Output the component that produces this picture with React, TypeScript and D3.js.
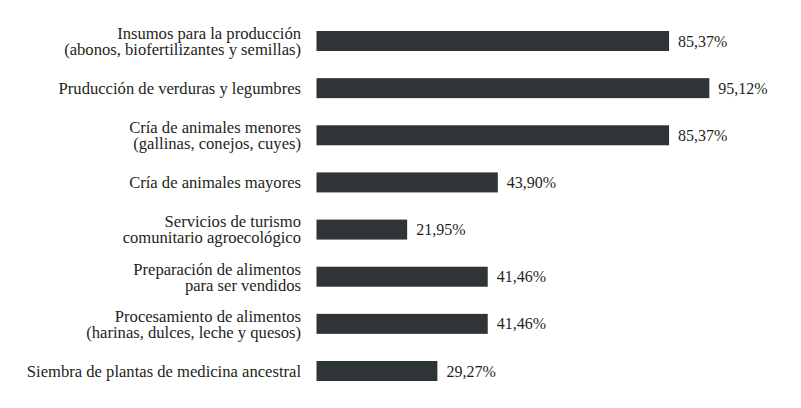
import * as d3 from "d3";
import React, { useEffect, useRef } from "react";

// categories (each entry is the label's lines)
const categories: string[][] = [
  ["Insumos para la producción", "(abonos, biofertilizantes y semillas)"],
  ["Pruducción de verduras y legumbres"],
  ["Cría de animales menores", "(gallinas, conejos, cuyes)"],
  ["Cría de animales mayores"],
  ["Servicios de turismo", "comunitario agroecológico"],
  ["Preparación de alimentos", "para ser vendidos"],
  ["Procesamiento de alimentos", "(harinas, dulces, leche y quesos)"],
  ["Siembra de plantas de medicina ancestral"],
];
const values: number[] = [85.37, 95.12, 85.37, 43.9, 21.95, 41.46, 41.46, 29.27];

const W = 801;
const H = 408;

const App = () => {
  const svgRef = useRef<SVGSVGElement>(null);

  useEffect(() => {
    const svg = d3.select(svgRef.current);
    svg.selectAll("*").remove();

    const keys = categories.map((c) => c.join(" "));
    const x = d3.scaleLinear().domain([0, 100]).range([316.5, 729.5]);
    const y = d3.scalePoint().domain(keys).range([41, 371]);
    const barH = 20;
    const font = "'Liberation Serif', 'Times New Roman', serif";
    const lineH = 16;

    const rows = svg
      .selectAll("g.row")
      .data(values.map((v, i) => ({ v, key: keys[i], lines: categories[i] })))
      .enter()
      .append("g")
      .attr("class", "row")
      .attr("transform", (d) => `translate(0,${y(d.key)})`);

    rows
      .append("rect")
      .attr("x", x(0))
      .attr("y", -barH / 2)
      .attr("width", (d) => x(d.v) - x(0))
      .attr("height", barH)
      .attr("fill", "#2f3436");

    rows
      .append("text")
      .attr("x", (d) => x(d.v) + 9)
      .attr("dy", "0.35em")
      .attr("font-family", font)
      .attr("font-size", 16)
      .attr("fill", "#231f20")
      .text((d) => d3.format(".2f")(d.v).replace(".", ",") + "%");

    const label = rows
      .append("text")
      .attr("text-anchor", "end")
      .attr("font-family", font)
      .attr("font-size", 16.6)
      .attr("fill", "#231f20");

    label
      .selectAll("tspan")
      .data((d) => d.lines.map((t, i) => ({ t, i, n: d.lines.length })))
      .enter()
      .append("tspan")
      .attr("x", 301)
      .attr("y", (d) => (d.i - (d.n - 1) / 2) * lineH)
      .attr("dy", "0.35em")
      .text((d) => d.t);
  }, []);

  return (
    <svg
      ref={svgRef}
      width={W}
      height={H}
      viewBox={`0 0 ${W} ${H}`}
      style={{ position: "absolute", left: 0, top: 0, background: "#fff" }}
    />
  );
};

export default App;
